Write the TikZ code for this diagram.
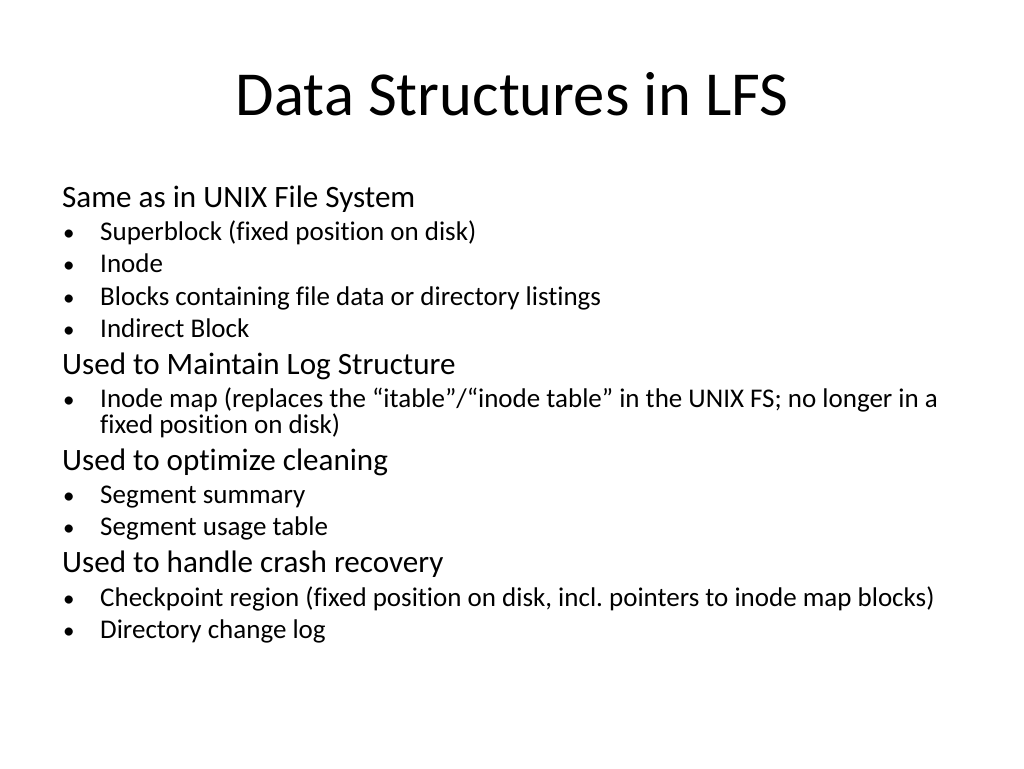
\documentclass[tikz,border=0pt]{standalone}
\usepackage{fontspec}
\setmainfont{Carlito}[Ligatures=NoCommon]
\frenchspacing
\begin{document}
\begin{tikzpicture}[x=1pt, y=-1pt,
    heading/.style={anchor=base west, inner sep=0pt, font=\fontsize{31.1}{37}\selectfont},
    item/.style={anchor=base west, inner sep=0pt, font=\fontsize{27}{32}\selectfont},
    dot/.style={anchor=base west, inner sep=0pt, font=\fontsize{23}{28}\selectfont}]
      \useasboundingbox (0,0) rectangle (1024,768);

      \node[anchor=base, inner sep=0pt, font=\fontsize{62.6}{75}\selectfont] (title) at (512,115) {Data Structures in LFS};

      \node[heading] (h1) at (62,207) {Same as in UNIX File System};
      \node[dot] (d1) at (63,240) {•};
      \node[item] (i1) at (100,240) {Superblock (fixed position on disk)};
      \node[dot] (d2) at (63,272) {•};
      \node[item] (i2) at (100,272) {Inode};
      \node[dot] (d3) at (63,305) {•};
      \node[item] (i3) at (100,305) {Blocks containing file data or directory listings};
      \node[dot] (d4) at (63,337) {•};
      \node[item] (i4) at (100,337) {Indirect Block};

      \node[heading] (h2) at (62,374) {Used to Maintain Log Structure};
      \node[dot] (d5) at (63,407) {•};
      \node[item] (i5) at (100,407) {Inode map (replaces the “itable”/“inode table” in the UNIX FS; no longer in a};
      \node[item] (i5b) at (100,433) {fixed position on disk)};

      \node[heading] (h3) at (62,470) {Used to optimize cleaning};
      \node[dot] (d6) at (63,503) {•};
      \node[item] (i6) at (100,503) {Segment summary};
      \node[dot] (d7) at (63,535) {•};
      \node[item] (i7) at (100,535) {Segment usage table};

      \node[heading] (h4) at (62,572) {Used to handle crash recovery};
      \node[dot] (d8) at (63,606) {•};
      \node[item] (i8) at (100,606) {Checkpoint region (fixed position on disk, incl. pointers to inode map blocks)};
      \node[dot] (d9) at (63,638) {•};
      \node[item] (i9) at (100,638) {Directory change log};
\end{tikzpicture}
\end{document}
